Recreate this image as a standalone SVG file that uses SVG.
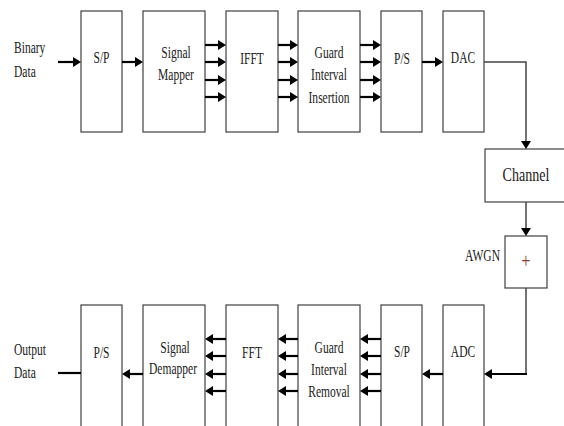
<svg xmlns="http://www.w3.org/2000/svg" width="564" height="426" viewBox="0 0 564 426">
<defs>
<style>
.box{fill:#fff;stroke:#404040;stroke-width:1.2}
.t{font-family:"Liberation Serif","Times New Roman",serif;font-size:16px;fill:#222;text-anchor:middle}
.l{text-anchor:start}
.e{text-anchor:end}
.a{fill:none;stroke:#000;stroke-width:2.2}
.g{fill:none;stroke:#444;stroke-width:1.5}
</style>
<marker id="ah" viewBox="0 0 8 10" refX="4" refY="5" markerWidth="8" markerHeight="10" markerUnits="userSpaceOnUse" orient="auto">
<path d="M0,0 L8,5 L0,10 z" fill="#000"/>
</marker>
</defs>
<rect width="564" height="426" fill="#fff"/>

<g id="label-binary">
<text class="t l" transform="translate(14,53) scale(0.72,1)">Binary</text>
<text class="t l" transform="translate(14,77) scale(0.72,1)">Data</text>
</g>
<g id="sp-tx"><rect class="box" x="81" y="11" width="41" height="121"/><text class="t" transform="translate(101.5,63) scale(0.72,1)">S/P</text></g>
<g id="mapper"><rect class="box" x="143" y="11" width="62" height="121"/><text class="t" transform="translate(176,58) scale(0.72,1)">Signal</text><text class="t" transform="translate(176,80) scale(0.72,1)">Mapper</text></g>
<g id="ifft"><rect class="box" x="226" y="11" width="52" height="121"/><text class="t" transform="translate(252,64) scale(0.72,1)">IFFT</text></g>
<g id="gi-insert"><rect class="box" x="298" y="11" width="62" height="121"/><text class="t" transform="translate(329,58) scale(0.72,1)">Guard</text><text class="t" transform="translate(329,80) scale(0.72,1)">Interval</text><text class="t" transform="translate(329,103) scale(0.72,1)">Insertion</text></g>
<g id="ps-tx"><rect class="box" x="381" y="11" width="41" height="121"/><text class="t" transform="translate(402,64) scale(0.72,1)">P/S</text></g>
<g id="dac"><rect class="box" x="443" y="11" width="41" height="121"/><text class="t" transform="translate(463,63) scale(0.72,1)">DAC</text></g>
<g id="channel"><rect class="box" x="485" y="149" width="80" height="53"/><text class="t" style="font-size:19px" transform="translate(526,181) scale(0.74,1)">Channel</text></g>
<g id="awgn"><rect class="box" x="505" y="236" width="42" height="52"/><text class="t" style="font-size:22px;fill:#8b3a3a" transform="translate(526,268) scale(0.75,1)">+</text><text class="t e" transform="translate(500,261) scale(0.72,1)">AWGN</text></g>

<g id="label-output">
<text class="t l" transform="translate(14,355) scale(0.72,1)">Output</text>
<text class="t l" transform="translate(14,378) scale(0.72,1)">Data</text>
</g>
<g id="ps-rx"><rect class="box" x="81" y="305" width="41" height="122"/><text class="t" transform="translate(101.5,358) scale(0.72,1)">P/S</text></g>
<g id="demapper"><rect class="box" x="143" y="305" width="62" height="122"/><text class="t" transform="translate(175,353) scale(0.72,1)">Signal</text><text class="t" transform="translate(173,374) scale(0.72,1)">Demapper</text></g>
<g id="fft"><rect class="box" x="226" y="305" width="52" height="122"/><text class="t" transform="translate(252,358) scale(0.72,1)">FFT</text></g>
<g id="gi-remove"><rect class="box" x="298" y="305" width="62" height="122"/><text class="t" transform="translate(329,353) scale(0.72,1)">Guard</text><text class="t" transform="translate(329,375) scale(0.72,1)">Interval</text><text class="t" transform="translate(329,397) scale(0.72,1)">Removal</text></g>
<g id="sp-rx"><rect class="box" x="381" y="305" width="41" height="122"/><text class="t" transform="translate(402,357) scale(0.72,1)">S/P</text></g>
<g id="adc"><rect class="box" x="443" y="305" width="41" height="122"/><text class="t" transform="translate(463,357) scale(0.72,1)">ADC</text></g>

<g id="connectors">
<path class="a" d="M58,62H77" marker-end="url(#ah)"/>
<path class="a" d="M122,62H139" marker-end="url(#ah)"/>
<path class="a" d="M205,45H222" marker-end="url(#ah)"/>
<path class="a" d="M205,62H222" marker-end="url(#ah)"/>
<path class="a" d="M205,80H222" marker-end="url(#ah)"/>
<path class="a" d="M205,97H222" marker-end="url(#ah)"/>
<path class="a" d="M278,45H294" marker-end="url(#ah)"/>
<path class="a" d="M278,62H294" marker-end="url(#ah)"/>
<path class="a" d="M278,80H294" marker-end="url(#ah)"/>
<path class="a" d="M278,97H294" marker-end="url(#ah)"/>
<path class="a" d="M360,45H377" marker-end="url(#ah)"/>
<path class="a" d="M360,62H377" marker-end="url(#ah)"/>
<path class="a" d="M360,80H377" marker-end="url(#ah)"/>
<path class="a" d="M360,97H377" marker-end="url(#ah)"/>
<path class="a" d="M422,62H439" marker-end="url(#ah)"/>
<path class="g" d="M484,62H526V145" marker-end="url(#ah)"/>
<path class="g" d="M526,202V232" marker-end="url(#ah)"/>
<path class="g" d="M526,288V374"/>
<path class="a" d="M527,374H488" marker-end="url(#ah)"/>
<path class="a" d="M443,374H426" marker-end="url(#ah)"/>
<path class="a" d="M381,339H364" marker-end="url(#ah)"/>
<path class="a" d="M381,356H364" marker-end="url(#ah)"/>
<path class="a" d="M381,374H364" marker-end="url(#ah)"/>
<path class="a" d="M381,391H364" marker-end="url(#ah)"/>
<path class="a" d="M298,339H282" marker-end="url(#ah)"/>
<path class="a" d="M298,356H282" marker-end="url(#ah)"/>
<path class="a" d="M298,374H282" marker-end="url(#ah)"/>
<path class="a" d="M298,391H282" marker-end="url(#ah)"/>
<path class="a" d="M226,339H209" marker-end="url(#ah)"/>
<path class="a" d="M226,356H209" marker-end="url(#ah)"/>
<path class="a" d="M226,374H209" marker-end="url(#ah)"/>
<path class="a" d="M226,391H209" marker-end="url(#ah)"/>
<path class="a" d="M143,374H126" marker-end="url(#ah)"/>
<path class="a" d="M58,373H81"/>
</g>
</svg>
